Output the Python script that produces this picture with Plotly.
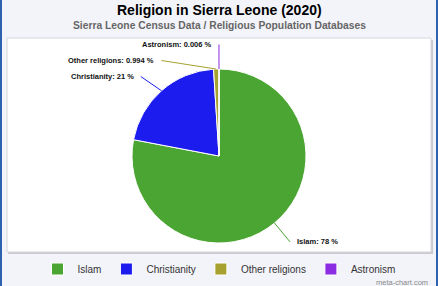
import math
import plotly.graph_objects as go

# ---- data ----
labels = ["Islam", "Christianity", "Other religions", "Astronism"]
values = [78, 21, 0.994, 0.006]
value_text = ["78", "21", "0.994", "0.006"]
colors = ["#4ba532", "#1c1cef", "#a7a22f", "#8b2be2"]

W, H = 438, 286
CX, CY, R = 219.0, 156.0, 87.0   # pie centre / radius in pixels
LABEL_R = R + 24.5               # label ring radius
MIN_GAP = 16.0                   # minimum vertical spacing between labels
FONT = "Liberation Sans, Arial, sans-serif"

def px(x):
    return x / W

def py(y):
    return 1 - y / H

fig = go.Figure()
fig.add_trace(go.Pie(
    labels=labels,
    values=values,
    sort=False,
    direction="clockwise",
    rotation=0,
    marker=dict(colors=colors, line=dict(color="white", width=1)),
    textinfo="none",
    hoverinfo="label+percent",
    domain=dict(x=[px(CX - R), px(CX + R)], y=[py(CY + R), py(CY - R)]),
    showlegend=True,
))

# ---- compute label positions from slice mid-angles (Highcharts-like) ----
total = sum(values)
cum = 0.0
items = []
for lab, v, vt, c in zip(labels, values, value_text, colors):
    mid = (cum + v / 2) / total * 2 * math.pi
    cum += v
    ex = CX + R * math.sin(mid)
    ey = CY - R * math.cos(mid)
    ly = CY - LABEL_R * math.cos(mid)
    side = 1 if math.sin(mid) > 1e-9 else -1
    items.append(dict(label=lab, vt=vt, color=c, mid=mid, ex=ex, ey=ey, ly=ly, side=side))

# resolve overlaps on each side (top to bottom)
for side in (1, -1):
    grp = [it for it in items if it["side"] == side]
    grp.sort(key=lambda it: it["ly"])
    prev = None
    for it in grp:
        if prev is not None and it["ly"] < prev + MIN_GAP:
            it["ly"] = prev + MIN_GAP
        prev = it["ly"]

shapes = []
annotations = []
for it in items:
    dy = it["ly"] - CY
    dx = math.sqrt(max(LABEL_R ** 2 - dy ** 2, 0))
    lx = CX + it["side"] * dx
    shapes.append(dict(type="line", xref="paper", yref="paper",
                       x0=px(it["ex"]), y0=py(it["ey"]), x1=px(lx), y1=py(it["ly"]),
                       line=dict(color=it["color"], width=1)))
    annotations.append(dict(
        x=px(lx), y=py(it["ly"]), xref="paper", yref="paper",
        text=f"<b>{it['label']}: {it['vt']} %</b>", showarrow=False,
        xanchor="left" if it["side"] > 0 else "right", yanchor="middle",
        xshift=5 * it["side"],
        font=dict(family=FONT, size=7.5, color="#111111"),
    ))

# frame decorations
box_shapes = [
    dict(type="rect", xref="paper", yref="paper", layer="below",
         x0=px(8), x1=px(433), y0=py(254), y1=py(40),
         fillcolor="#c9c9cf", line=dict(width=0)),
    dict(type="rect", xref="paper", yref="paper", layer="below",
         x0=px(7), x1=px(431), y0=py(252), y1=py(38),
         fillcolor="white", line=dict(color="#d6d6dc", width=1)),
    dict(type="rect", xref="paper", yref="paper", layer="above",
         x0=0, x1=px(2), y0=0, y1=1, fillcolor="#2f62ae", line=dict(width=0)),
    dict(type="rect", xref="paper", yref="paper", layer="above",
         x0=px(436), x1=1, y0=0, y1=1, fillcolor="#2f62ae", line=dict(width=0)),
]

annotations.append(dict(
    x=0.5, y=py(9.5), xref="paper", yref="paper", showarrow=False,
    text="<b>Religion in Sierra Leone (2020)</b>",
    font=dict(family=FONT, size=14, color="#000000"),
    xanchor="center", yanchor="middle"))
annotations.append(dict(
    x=0.5, y=py(25.5), xref="paper", yref="paper", showarrow=False,
    text="<b>Sierra Leone Census Data / Religious Population Databases</b>",
    font=dict(family=FONT, size=10.3, color="#666666"),
    xanchor="center", yanchor="middle"))
annotations.append(dict(
    x=px(430), y=py(282), xref="paper", yref="paper", showarrow=False,
    text="meta-chart.com",
    font=dict(family=FONT, size=7.5, color="#8a8a8a"),
    xanchor="right", yanchor="middle"))

fig.update_layout(
    width=W, height=H,
    margin=dict(l=0, r=0, t=0, b=0),
    paper_bgcolor="#f3f4fa",
    plot_bgcolor="#f3f4fa",
    legend=dict(orientation="h", x=0.5, xanchor="center", y=py(269), yanchor="middle",
                font=dict(family=FONT, size=10, color="#333333"),
                itemwidth=30, bgcolor="rgba(0,0,0,0)"),
    shapes=box_shapes + shapes,
    annotations=annotations,
)

fig.write_html("out.html")
